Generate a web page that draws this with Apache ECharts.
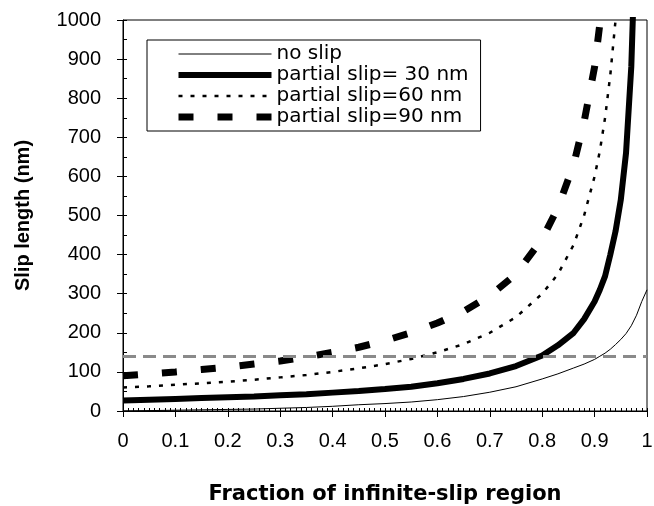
<!DOCTYPE html>
<html>
<head>
<meta charset="utf-8">
<script src="https://cdn.jsdelivr.net/npm/echarts@6/dist/echarts.min.js"></script>
<style>
  html, body { margin: 0; padding: 0; background: #fff; }
  #main { width: 654px; height: 506px; }
</style>
</head>
<body>
<div id="main"></div>
<script>
// fraction of infinite-slip region (x samples)
var fraction = [0, 0.05, 0.1, 0.15, 0.2, 0.25, 0.3, 0.35, 0.4, 0.45, 0.5, 0.55, 0.6, 0.65, 0.7, 0.75,
                0.8, 0.83, 0.86, 0.88, 0.9, 0.91, 0.92, 0.93, 0.94, 0.95, 0.96, 0.97, 0.98, 0.99, 1.0];

// slip length (nm); null = off the top of the plot
var noSlip = [0, 1, 2, 3, 4, 5, 7, 9, 12, 16, 19, 23, 29, 37, 48, 62,
              82, 95, 110, 120, 132, 140, 148, 158, 170, 183, 198, 218, 245, 280, 310];
var slip30 = [27, 29, 31, 33, 35, 37, 40, 43, 47, 51, 56, 62, 71, 82, 96, 115,
              142, 168, 200, 235, 280, 310, 345, 400, 460, 540, 660, 880, 1300, null, null];
var slip60 = [60, 63, 67, 71, 75, 80, 86, 92, 100, 109, 120, 133, 150, 171, 200, 240,
              300, 350, 425, 500, 600, 665, 750, 860, 1000, 1200, null, null, null, null, null];
var slip90 = [90, 95, 100, 106, 112, 120, 128, 138, 150, 163, 180, 200, 225, 255, 295, 350,
              440, 520, 630, 740, 880, 990, 1120, null, null, null, null, null, null, null, null];

var seriesNames = ['no slip', 'partial slip= 30 nm', 'partial slip=60 nm', 'partial slip=90 nm'];
var refLine = 140; // grey dashed reference level

var yTicks = ['0', '100', '200', '300', '400', '500', '600', '700', '800', '900', '1000'];
var xTicks = ['0', '0.1', '0.2', '0.3', '0.4', '0.5', '0.6', '0.7', '0.8', '0.9', '1'];

function pairs(vals) {
  var out = [];
  for (var i = 0; i < fraction.length; i++) {
    if (vals[i] !== null) out.push([fraction[i], vals[i]]);
  }
  return out;
}

var myChart = echarts.init(document.getElementById('main'));
var font = 'Liberation Sans, Arial, sans-serif';
var wideFont = 'DejaVu Sans, sans-serif';

myChart.setOption({
  animation: false,
  backgroundColor: '#fff',
  grid: {
    left: 123, right: 7, top: 20, bottom: 95,
    outerBoundsMode: 'none',
    show: true, borderColor: '#000', borderWidth: 1
  },
  legend: {
    data: seriesNames,
    orient: 'vertical',
    left: 147, top: 40,
    padding: [4, 12, 4, 28],
    itemWidth: 93, itemHeight: 14, itemGap: 1,
    borderColor: '#000', borderWidth: 1,
    backgroundColor: '#fff',
    itemStyle: { opacity: 0 },
    lineStyle: { width: 'inherit', type: 'inherit' },
    textStyle: { fontFamily: wideFont, fontSize: 20, color: '#000', lineHeight: 20 }
  },
  xAxis: [{
    type: 'value', position: 'bottom', min: 0, max: 1, interval: 0.1,
    name: 'Fraction of infinite-slip region', nameLocation: 'middle', nameGap: 73,
    nameTextStyle: { fontFamily: wideFont, fontSize: 21, fontWeight: 'bold', color: '#000' },
    axisLine: { lineStyle: { color: '#000', width: 1 } },
    axisTick: { length: 6, lineStyle: { color: '#000' } },
    axisLabel: {
      margin: 20, fontFamily: font, fontSize: 20, color: '#000',
      formatter: function (v) { return xTicks[Math.round(v * 10)]; }
    },
    splitLine: { show: false }
  }, {
    type: 'value', position: 'bottom', min: 0, max: 1, interval: 0.1,
    axisLine: { show: false },
    axisTick: { inside: true, length: 3, lineStyle: { color: '#000' } },
    minorTick: { show: true, splitNumber: 10, length: 3, lineStyle: { color: '#000' } },
    axisLabel: { show: false },
    splitLine: { show: false }
  }],
  yAxis: [{
    type: 'value', position: 'left', min: 0, max: 1000, interval: 100,
    name: 'Slip length (nm)', nameLocation: 'middle', nameGap: 90,
    nameTextStyle: { fontFamily: font, fontSize: 20, fontWeight: 'bold', color: '#000' },
    axisLine: { show: true, lineStyle: { color: '#000', width: 1 } },
    axisTick: { show: true, length: 6, lineStyle: { color: '#000' } },
    axisLabel: {
      margin: 22, fontFamily: font, fontSize: 20, color: '#000',
      formatter: function (v) { return yTicks[Math.round(v / 100)]; }
    },
    splitLine: { show: false }
  }, {
    type: 'value', position: 'left', min: 0, max: 1000, interval: 50,
    axisLine: { show: false },
    axisTick: { show: true, inside: true, length: 4, lineStyle: { color: '#000' } },
    axisLabel: { show: false },
    splitLine: { show: false }
  }],
  series: [{
    name: seriesNames[0], type: 'line', symbol: 'none', data: pairs(noSlip),
    lineStyle: { color: '#000', width: 1 }, itemStyle: { color: '#000' },
    markLine: {
      silent: true, symbol: 'none', label: { show: false },
      lineStyle: { color: '#8a8a8a', width: 3, type: [13, 7] },
      data: [{ yAxis: refLine }]
    }
  }, {
    name: seriesNames[1], type: 'line', symbol: 'none', data: pairs(slip30),
    lineStyle: { color: '#000', width: 6 }, itemStyle: { color: '#000' }
  }, {
    name: seriesNames[2], type: 'line', symbol: 'none', data: pairs(slip60),
    lineStyle: { color: '#000', width: 2.5, type: [4, 8] }, itemStyle: { color: '#000' }
  }, {
    name: seriesNames[3], type: 'line', symbol: 'none', data: pairs(slip90),
    lineStyle: { color: '#000', width: 7, type: [15, 24] }, itemStyle: { color: '#000' }
  }]
});
</script>
</body>
</html>
